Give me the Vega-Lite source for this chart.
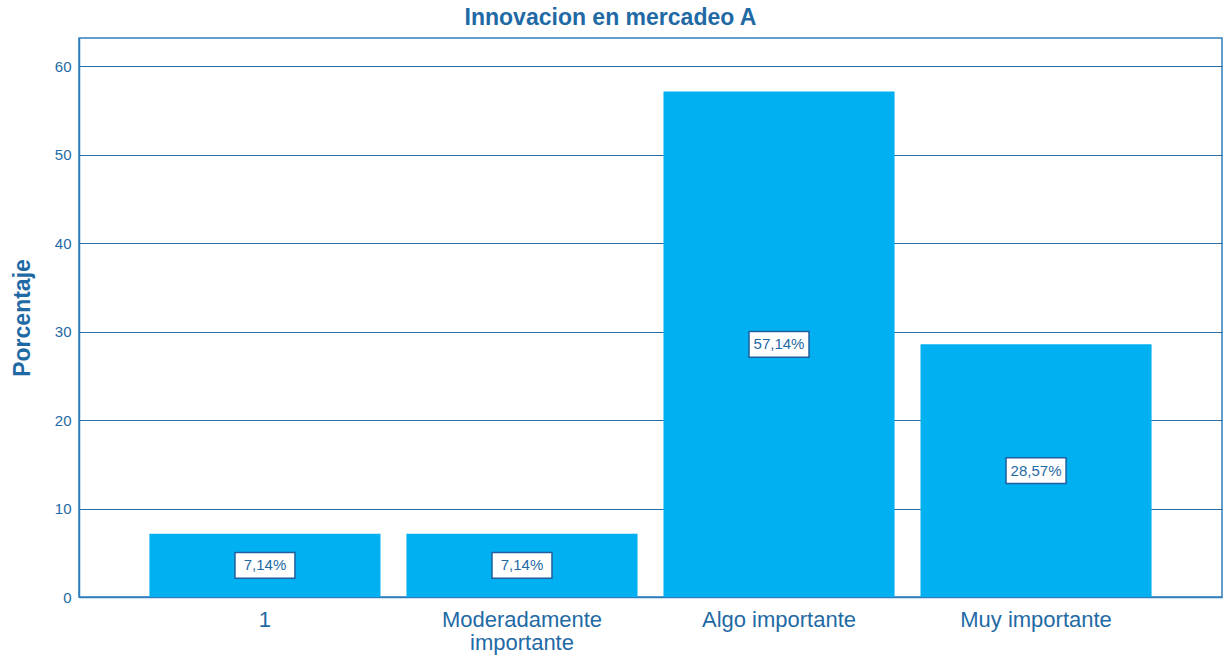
{
  "$schema": "https://vega.github.io/schema/vega-lite/v6.json",
  "width": 1143,
  "height": 559,
  "autosize": {"type": "none"},
  "padding": {"left": 79, "top": 38, "right": 8, "bottom": 63},
  "background": "white",
  "title": {
    "text": "Innovacion en mercadeo A",
    "font": "Liberation Sans",
    "fontSize": 23,
    "fontWeight": "bold",
    "color": "#1f6aa5",
    "anchor": "middle",
    "dx": -40,
    "offset": 8
  },
  "config": {
    "view": {"stroke": "#2f7fbf", "strokeWidth": 1.5},
    "axis": {
      "labelFont": "Liberation Sans",
      "titleFont": "Liberation Sans",
      "labelColor": "#1f6aa5",
      "titleColor": "#1f6aa5",
      "domainColor": "#2f7fbf",
      "domainWidth": 1.5,
      "ticks": false,
      "gridColor": "#2a6ea6",
      "gridWidth": 1,
      "gridOpacity": 1
    }
  },
  "data": {
    "values": [
      {"cat": "1", "pct": 7.14, "label": "7,14%"},
      {"cat": "Moderadamente importante", "pct": 7.14, "label": "7,14%"},
      {"cat": "Algo importante", "pct": 57.14, "label": "57,14%"},
      {"cat": "Muy importante", "pct": 28.57, "label": "28,57%"}
    ]
  },
  "transform": [{"calculate": "datum.pct / 2", "as": "mid"}],
  "encoding": {
    "x": {
      "field": "cat",
      "type": "nominal",
      "sort": null,
      "scale": {"paddingInner": 0.101, "paddingOuter": 0.274},
      "axis": {
        "title": null,
        "labelAngle": 0,
        "labelFontSize": 22,
        "labelPadding": 12,
        "labelLineHeight": 23,
        "grid": false,
        "labelExpr": "datum.value == 'Moderadamente importante' ? ['Moderadamente', 'importante'] : datum.value"
      }
    }
  },
  "layer": [
    {
      "mark": {"type": "bar", "color": "#00b0f0"},
      "encoding": {
        "y": {
          "field": "pct",
          "type": "quantitative",
          "scale": {"domain": [0, 63.2], "nice": false},
          "axis": {
            "title": "Porcentaje",
            "titleFontSize": 23,
            "titleFontWeight": "bold",
            "titlePadding": 20,
            "labelFontSize": 15,
            "labelPadding": 8,
            "values": [0, 10, 20, 30, 40, 50, 60],
            "grid": true
          }
        }
      }
    },
    {
      "mark": {
        "type": "point",
        "shape": "M-1,-0.43H1V0.43H-1Z",
        "filled": true,
        "fill": "white",
        "stroke": "#1f5f9f",
        "strokeWidth": 1.5,
        "opacity": 1,
        "size": 3600
      },
      "encoding": {
        "y": {"field": "mid", "type": "quantitative"}
      }
    },
    {
      "mark": {
        "type": "text",
        "font": "Liberation Sans",
        "fontSize": 15,
        "color": "#1f6aa5",
        "align": "center",
        "baseline": "middle"
      },
      "encoding": {
        "y": {"field": "mid", "type": "quantitative"},
        "text": {"field": "label"}
      }
    }
  ]
}
